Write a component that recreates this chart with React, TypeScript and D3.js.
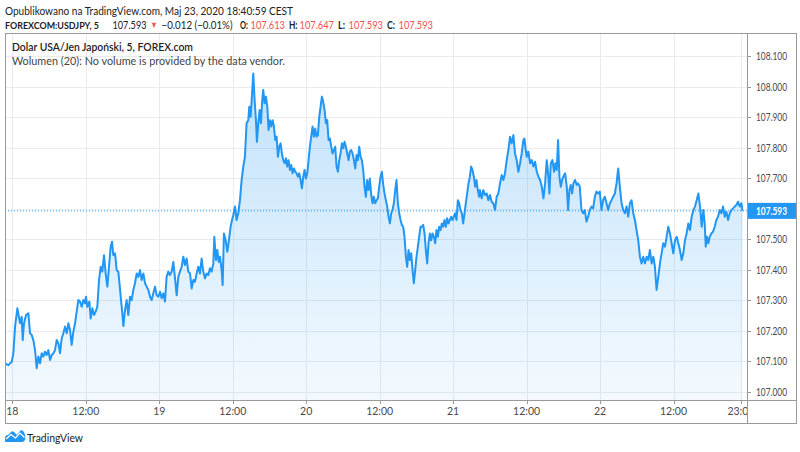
import React from 'react';
import * as d3 from 'd3';

const W = 800;
const H = 452;

// Hours since 18 May 2020 00:00 CEST where the time axis has its labels
const xTickHours = [0, 12, 24, 36, 48, 60, 72, 84, 96, 108, 119];
const xTickLabels = ['18', '12:00', '19', '12:00', '20', '12:00', '21', '12:00', '22', '12:00', '23:00'];
const yTicks = [107.0, 107.1, 107.2, 107.3, 107.4, 107.5, 107.6, 107.7, 107.8, 107.9, 108.0, 108.1];
const yTickLabels = ['107.000', '107.100', '107.200', '107.300', '107.400', '107.500', '107.600', '107.700', '107.800', '107.900', '108.000', '108.100'];
const lastPrice = 107.593;
const lastPriceLabel = '107.593';

// [hours since 18 May 00:00 CEST, USD/JPY close]
const usdjpy: [number, number][] = [
  [-1.19, 107.094], [-0.65, 107.088], [-0.10, 107.099], [0.17, 107.127], [0.44, 107.214], [0.82, 107.274], [1.26, 107.225], [1.53, 107.246], [1.69, 107.170], [1.91, 107.225],
  [2.24, 107.252], [2.62, 107.258], [2.89, 107.192], [3.16, 107.187], [3.43, 107.170], [3.71, 107.137], [3.98, 107.078], [4.25, 107.116], [4.52, 107.094], [4.80, 107.127],
  [5.07, 107.116], [5.34, 107.132], [5.61, 107.121], [5.88, 107.137], [6.16, 107.105], [6.43, 107.121], [6.70, 107.127], [6.97, 107.137], [7.24, 107.170], [7.52, 107.159],
  [7.79, 107.127], [8.06, 107.176], [8.33, 107.192], [8.60, 107.214], [8.88, 107.192], [9.15, 107.225], [9.42, 107.203], [9.69, 107.154], [9.96, 107.197], [10.24, 107.225],
  [10.51, 107.263], [10.78, 107.301], [11.05, 107.296], [11.33, 107.279], [11.60, 107.301], [11.87, 107.290], [12.03, 107.312], [12.25, 107.279], [12.58, 107.296], [12.80, 107.241],
  [13.07, 107.274], [13.34, 107.252], [13.61, 107.263], [13.88, 107.279], [14.16, 107.367], [14.43, 107.410], [14.70, 107.394], [14.97, 107.448], [15.24, 107.388], [15.52, 107.345],
  [15.79, 107.410], [16.06, 107.476], [16.28, 107.492], [16.49, 107.448], [16.77, 107.454], [17.04, 107.399], [17.31, 107.394], [17.58, 107.339], [17.75, 107.301], [17.96, 107.258],
  [18.13, 107.216], [18.40, 107.268], [18.67, 107.301], [18.94, 107.252], [19.22, 107.312], [19.49, 107.301], [19.76, 107.334], [20.03, 107.356], [20.31, 107.388], [20.58, 107.377],
  [20.85, 107.399], [21.12, 107.367], [21.40, 107.388], [21.67, 107.356], [21.94, 107.345], [22.21, 107.334], [22.49, 107.312], [22.76, 107.301], [23.03, 107.323], [23.30, 107.345],
  [23.57, 107.317], [23.85, 107.312], [24.12, 107.328], [24.39, 107.307], [24.66, 107.323], [24.93, 107.296], [25.20, 107.377], [25.48, 107.394], [25.75, 107.383], [26.02, 107.394],
  [26.29, 107.426], [26.57, 107.372], [26.84, 107.317], [27.11, 107.377], [27.38, 107.394], [27.66, 107.410], [27.93, 107.443], [28.20, 107.416], [28.47, 107.437], [28.74, 107.394],
  [29.02, 107.388], [29.29, 107.339], [29.56, 107.367], [29.83, 107.361], [30.10, 107.388], [30.38, 107.410], [30.65, 107.388], [30.92, 107.437], [31.19, 107.394], [31.47, 107.372],
  [31.74, 107.388], [32.01, 107.383], [32.28, 107.405], [32.55, 107.394], [32.83, 107.421], [32.99, 107.508], [33.26, 107.432], [33.48, 107.465], [33.70, 107.426], [33.91, 107.443],
  [34.19, 107.399], [34.35, 107.350], [34.56, 107.519], [34.84, 107.497], [35.11, 107.459], [35.38, 107.497], [35.65, 107.541], [35.81, 107.557], [36.08, 107.579], [36.36, 107.607],
  [36.63, 107.563], [36.90, 107.585], [37.18, 107.628],
  [37.45, 107.694], [37.72, 107.738], [37.99, 107.770], [38.26, 107.880], [38.54, 107.890], [38.70, 107.934], [38.92, 107.901], [39.13, 107.967], [39.35, 108.043], [39.57, 107.956],
  [39.79, 107.890], [39.95, 107.819], [40.17, 107.880], [40.39, 107.923], [40.60, 107.880], [40.82, 107.956], [40.98, 107.989], [41.20, 107.945], [41.42, 107.967], [41.64, 107.934],
  [41.86, 107.858], [42.07, 107.890], [42.29, 107.869], [42.51, 107.890], [42.73, 107.869], [42.94, 107.825], [43.16, 107.836], [43.38, 107.770], [43.60, 107.803], [43.82, 107.814],
  [44.03, 107.781], [44.25, 107.759], [44.47, 107.749], [44.69, 107.765], [44.90, 107.738], [45.12, 107.759], [45.34, 107.727], [45.56, 107.743], [45.77, 107.716], [45.99, 107.732],
  [46.21, 107.721], [46.43, 107.716], [46.64, 107.705], [46.86, 107.716], [47.08, 107.694], [47.30, 107.667], [47.52, 107.705], [47.73, 107.727], [47.95, 107.699], [48.17, 107.716],
  [48.39, 107.759], [48.60, 107.803], [48.82, 107.836], [49.04, 107.869], [49.26, 107.836], [49.47, 107.863], [49.69, 107.836], [49.91, 107.841], [50.13, 107.901], [50.35, 107.934],
  [50.56, 107.967], [50.78, 107.950], [51.00, 107.923], [51.22, 107.880], [51.43, 107.890], [51.65, 107.825], [51.87, 107.830], [52.09, 107.803], [52.31, 107.781], [52.52, 107.792],
  [52.74, 107.803], [52.96, 107.738], [53.18, 107.721], [53.39, 107.759], [53.61, 107.781], [53.83, 107.814], [54.05, 107.798], [54.26, 107.819], [54.48, 107.803], [54.70, 107.781],
  [54.92, 107.759], [55.13, 107.787], [55.35, 107.792], [55.57, 107.781], [55.79, 107.759], [56.01, 107.732], [56.22, 107.776], [56.44, 107.759], [56.66, 107.803], [56.88, 107.770],
  [57.09, 107.759], [57.31, 107.727], [57.53, 107.672], [57.75, 107.639], [57.96, 107.694], [58.18, 107.661], [58.40, 107.699], [58.62, 107.645], [58.84, 107.618], [59.05, 107.639],
  [59.27, 107.618], [59.49, 107.628], [59.71, 107.634], [59.92, 107.672], [60.14, 107.705], [60.36, 107.721], [60.58, 107.678], [60.79, 107.650], [61.01, 107.628], [61.23, 107.607],
  [61.45, 107.574], [61.67, 107.552], [61.88, 107.585], [62.10, 107.596], [62.32, 107.618], [62.54, 107.661], [62.75, 107.694], [62.97, 107.618], [63.19, 107.585], [63.41, 107.563],
  [63.62, 107.547], [63.84, 107.541], [64.06, 107.508], [64.28, 107.443], [64.49, 107.410], [64.71, 107.465], [64.93, 107.432], [65.15, 107.454], [65.37, 107.399], [65.58, 107.356],
  [65.80, 107.399], [66.02, 107.443], [66.24, 107.476], [66.45, 107.508], [66.67, 107.541], [66.89, 107.541], [67.11, 107.547], [67.33, 107.519], [67.54, 107.465], [67.76, 107.421],
  [67.98, 107.487], [68.20, 107.519], [68.41, 107.497], [68.63, 107.519], [68.85, 107.508], [69.07, 107.487], [69.28, 107.530], [69.50, 107.508], [69.72, 107.541], [69.94, 107.530],
  [70.15, 107.552], [70.37, 107.541], [70.59, 107.563], [70.81, 107.541], [71.03, 107.569], [71.24, 107.552], [71.46, 107.563], [71.68, 107.574], [71.90, 107.563], [72.11, 107.574],
  [72.33, 107.585], [72.55, 107.563], [72.77, 107.628], [72.98, 107.618], [73.20, 107.596], [73.42, 107.585], [73.64, 107.552], [73.86, 107.585], [74.07, 107.618], [74.29, 107.650],
  [74.51, 107.683], [74.73, 107.705], [74.94, 107.738], [75.16, 107.727], [75.38, 107.705], [75.60, 107.672], [75.81, 107.694], [76.03, 107.661], [76.25, 107.639],
  [76.38, 107.661], [76.66, 107.634], [76.93, 107.661], [77.20, 107.645], [77.48, 107.650], [77.75, 107.628], [78.02, 107.645], [78.29, 107.623], [78.56, 107.618], [78.84, 107.596],
  [79.11, 107.639], [79.38, 107.650], [79.66, 107.683], [79.93, 107.710], [80.20, 107.694], [80.47, 107.716], [80.75, 107.759], [81.02, 107.792], [81.29, 107.836], [81.56, 107.814],
  [81.84, 107.841], [82.11, 107.781], [82.38, 107.759], [82.66, 107.721], [82.93, 107.749], [83.20, 107.781], [83.47, 107.825], [83.64, 107.830], [83.86, 107.792], [84.02, 107.770],
  [84.29, 107.787], [84.57, 107.749], [84.84, 107.759], [85.11, 107.738], [85.38, 107.754], [85.66, 107.721], [85.93, 107.705], [86.20, 107.694], [86.48, 107.672], [86.75, 107.634],
  [87.02, 107.683], [87.29, 107.759], [87.56, 107.705], [87.73, 107.650], [87.95, 107.749], [88.22, 107.759], [88.49, 107.721], [88.71, 107.749], [88.92, 107.727], [89.14, 107.825],
  [89.36, 107.705], [89.58, 107.672], [89.80, 107.694], [90.01, 107.705], [90.29, 107.716], [90.56, 107.672], [90.78, 107.596], [90.99, 107.661], [91.21, 107.678], [91.43, 107.650],
  [91.65, 107.683], [91.92, 107.694], [92.19, 107.678], [92.41, 107.683], [92.69, 107.672], [92.96, 107.596], [93.23, 107.585], [93.50, 107.596], [93.78, 107.558], [94.05, 107.574],
  [94.32, 107.596], [94.60, 107.607], [94.87, 107.601], [95.14, 107.639], [95.41, 107.656], [95.69, 107.650], [95.96, 107.656], [96.23, 107.596], [96.50, 107.628], [96.78, 107.639],
  [97.05, 107.618], [97.32, 107.596], [97.60, 107.618], [97.87, 107.628], [98.14, 107.639], [98.42, 107.650], [98.69, 107.683], [98.96, 107.732], [99.23, 107.672], [99.51, 107.618],
  [99.78, 107.596], [100.05, 107.585], [100.33, 107.607], [100.60, 107.574], [100.87, 107.618], [101.14, 107.628], [101.42, 107.585], [101.69, 107.563], [101.96, 107.530], [102.23, 107.497],
  [102.51, 107.443], [102.78, 107.421], [103.05, 107.443], [103.33, 107.421], [103.60, 107.443], [103.87, 107.432], [104.14, 107.465], [104.42, 107.421], [104.69, 107.443], [104.96, 107.410],
  [105.23, 107.334], [105.51, 107.377], [105.78, 107.421], [106.05, 107.454], [106.32, 107.487], [106.60, 107.476], [106.87, 107.508], [107.14, 107.541], [107.42, 107.519], [107.69, 107.487],
  [107.96, 107.454], [108.24, 107.497], [108.51, 107.508], [108.78, 107.487], [109.05, 107.465], [109.33, 107.432], [109.60, 107.454], [109.87, 107.497], [110.14, 107.519], [110.42, 107.552],
  [110.69, 107.530], [110.96, 107.574], [111.24, 107.596], [111.51, 107.607], [111.78, 107.628], [112.05, 107.650], [112.33, 107.607], [112.60, 107.541], [112.87, 107.596], [113.09, 107.552],
  [113.26, 107.476], [113.48, 107.508], [113.69, 107.487], [113.91, 107.508], [114.18, 107.519], [114.45, 107.525], [114.73, 107.541], [115.00, 107.563], [115.27, 107.574], [115.54, 107.596],
  [115.82, 107.585], [116.09, 107.607], [116.36, 107.574], [116.63, 107.590], [116.91, 107.563], [117.18, 107.585], [117.45, 107.596], [117.73, 107.601], [118.00, 107.607], [118.27, 107.612],
  [118.54, 107.623], [118.82, 107.607], [119.09, 107.618], [119.25, 107.593],
];

// header line 2 pieces: text, colour role, weight
const quoteParts: [string, string, string][] = [
  ['FOREXCOM:USDJPY, 5', 'dark', 'bold'],
  ['107.593', 'dark', 'normal'],
  ['▼', 'red', 'normal'],
  ['−0.012 (−0.01%)', 'dark', 'normal'],
  ['O:', 'dark', 'bold'],
  ['107.613', 'red', 'normal'],
  ['H:', 'dark', 'bold'],
  ['107.647', 'red', 'normal'],
  ['L:', 'dark', 'bold'],
  ['107.593', 'red', 'normal'],
  ['C:', 'dark', 'bold'],
  ['107.593', 'red', 'normal'],
];
const quoteX = [5, 112.5, 150.5, 161.5, 240, 250.5, 289, 299.5, 338, 348.5, 387, 398.5];
const quoteLen = [94, 34, 7, 71, 8, 34.5, 8.5, 34.5, 7, 34.5, 8, 34.5];
const quoteSize = [10, 10.5, 9, 10.5, 10.5, 10.5, 10.5, 10.5, 10.5, 10.5, 10.5, 10.5];

const PL = 5, PR = 747, PT = 33, PB = 400, AR = 796, AB = 423;
const BLUE = '#2196f3';
const RED = '#f0524f';
const DARK = '#222';
const FONT = 'Lato, "Open Sans", sans-serif';

export default function App() {
  const x = d3.scaleLinear().domain([-1.2, 120]).range([PL, PR]);
  const y = d3.scaleLinear().domain([107.0, 108.1]).range([392, 56]);

  const line = d3.line<[number, number]>().x(d => x(d[0])).y(d => y(d[1]));
  const area = d3.area<[number, number]>().x(d => x(d[0])).y0(PB).y1(d => y(d[1]));
  const topY = y(d3.max(usdjpy, d => d[1]) as number);
  const priceY = y(lastPrice);

  return (
    <svg width={W} height={H} style={{ position: 'absolute', left: 0, top: 0, background: '#fff' }} fontFamily={FONT}>
      <defs>
        <linearGradient id="fillGrad" gradientUnits="userSpaceOnUse" x1={0} x2={0} y1={topY} y2={PB}>
          <stop offset="0%" stopColor={BLUE} stopOpacity={0.28} />
          <stop offset="100%" stopColor={BLUE} stopOpacity={0.05} />
        </linearGradient>
        <clipPath id="plotClip"><rect x={PL} y={PT} width={PR - PL} height={PB - PT} /></clipPath>
        <clipPath id="timeClip"><rect x={PL} y={PB} width={PR - PL} height={AB - PB} /></clipPath>
      </defs>
      <rect x={0} y={0} width={W} height={H} fill="#fff" />

      {/* header */}
      <text x={5} y={15} fontSize={12} fill={DARK} textLength={288} lengthAdjust="spacingAndGlyphs">Opublikowano na TradingView.com, Maj 23, 2020 18:40:59 CEST</text>
      {quoteParts.map(([t, c, w], i) => (
        <text key={'q' + i} x={quoteX[i]} y={t === '▼' ? 27.5 : 28.5} fill={c === 'red' ? RED : DARK}
          fontWeight={w} fontSize={quoteSize[i]} textLength={quoteLen[i]} lengthAdjust="spacingAndGlyphs">{t}</text>
      ))}

      {/* grid */}
      <g stroke="#e9ebef" strokeWidth={1}>
        {yTicks.map((t, i) => (
          <line key={'h' + i} x1={PL} x2={PR} y1={Math.round(y(t)) + 0.5} y2={Math.round(y(t)) + 0.5} />
        ))}
        {xTickHours.map((t, i) => (
          <line key={'v' + i} x1={Math.round(x(t)) + 0.5} x2={Math.round(x(t)) + 0.5} y1={PT} y2={PB} />
        ))}
      </g>

      {/* series */}
      <g clipPath="url(#plotClip)">
        <path d={area(usdjpy) || ''} fill="url(#fillGrad)" />
        <path d={line(usdjpy) || ''} fill="none" stroke={BLUE} strokeWidth={2} strokeLinejoin="round" />
        <line x1={PL} x2={PR} y1={priceY} y2={priceY} stroke={BLUE} strokeWidth={1} strokeDasharray="1 2" />
      </g>

      {/* legend */}
      <text x={12} y={51} fontSize={12} fontWeight={600} fill={DARK} textLength={181} lengthAdjust="spacingAndGlyphs">Dolar USA/Jen Japoński, 5, FOREX.com</text>
      <text x={12} y={64.5} fontSize={12} fill="#444" textLength={273} lengthAdjust="spacingAndGlyphs">Wolumen (20): No volume is provided by the data vendor.</text>

      {/* frame */}
      <g stroke="#9a9a9a" fill="none" strokeWidth={1}>
        <rect x={PL + 0.5} y={PT + 0.5} width={AR - PL} height={AB - PT} />
        <line x1={PR + 0.5} x2={PR + 0.5} y1={PT} y2={AB} />
        <line x1={PL} x2={AR} y1={PB + 0.5} y2={PB + 0.5} />
      </g>

      {/* price axis (the label under the last-price marker is hidden, as in the app) */}
      <g fontSize={10.5} fill="#4a4a4a">
        {yTicks.map((t, i) => (
          <g key={'yt' + i}>
            <line x1={PR} x2={PR + 4} y1={Math.round(y(t)) + 0.5} y2={Math.round(y(t)) + 0.5} stroke="#9a9a9a" />
            {Math.abs(y(t) - priceY) > 14 && (
              <text x={756} y={y(t) + 4} textLength={31} lengthAdjust="spacingAndGlyphs">{yTickLabels[i]}</text>
            )}
          </g>
        ))}
      </g>
      <rect x={PR + 1} y={priceY - 8} width={AR - PR - 1} height={16} fill={BLUE} />
      <text x={756} y={priceY + 4} fontSize={10.5} fill="#fff" fontWeight="bold" textLength={31} lengthAdjust="spacingAndGlyphs">{lastPriceLabel}</text>

      {/* time axis */}
      <g fontSize={10.5} fill="#4a4a4a" clipPath="url(#timeClip)">
        {xTickHours.map((t, i) => (
          <g key={'xt' + i}>
            <line x1={Math.round(x(t)) + 0.5} x2={Math.round(x(t)) + 0.5} y1={PB} y2={PB + 4} stroke="#9a9a9a" />
            <text x={x(t)} y={415} textAnchor="middle">{xTickLabels[i]}</text>
          </g>
        ))}
      </g>

      {/* logo */}
      <g>
        <path d="M5 442 L5 438 Q5 435 8 435 L11 432 Q13 430 15 433 L17 435 L20 431 Q22 429 24 432 L25 435 Q26 437 25 440 Q24 442 22 442 Z" fill={BLUE} />
        <polyline points="6,439 11,434.5 15.5,438 20,433 24.5,437.5" fill="none" stroke="#fff" strokeWidth={1.2} />
        <text x={27} y={442} fontSize={12} fill={DARK} textLength={56} lengthAdjust="spacingAndGlyphs">TradingView</text>
      </g>
    </svg>
  );
}
